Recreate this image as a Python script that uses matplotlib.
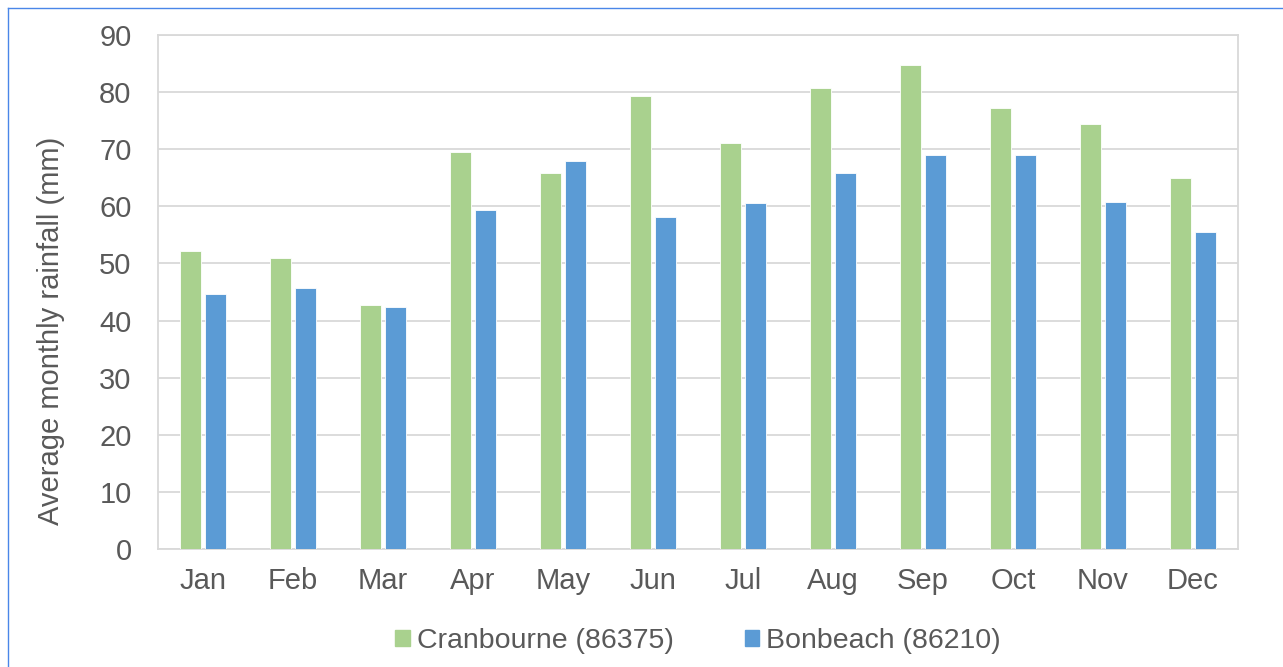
import matplotlib
matplotlib.use("Agg")
import matplotlib.pyplot as plt
import numpy as np
from matplotlib.lines import Line2D

months = ["Jan", "Feb", "Mar", "Apr", "May", "Jun", "Jul", "Aug", "Sep", "Oct", "Nov", "Dec"]
cranbourne = [52.2, 51.0, 42.8, 69.6, 65.8, 79.3, 71.1, 80.8, 84.8, 77.2, 74.5, 65.0]
bonbeach = [44.6, 45.7, 42.3, 59.4, 67.9, 58.2, 60.5, 65.8, 69.0, 69.0, 60.8, 55.5]
series_names = ["Cranbourne (86375)", "Bonbeach (86210)"]
yticks = [0, 10, 20, 30, 40, 50, 60, 70, 80, 90]

plt.rcParams['font.family'] = ['Liberation Sans', 'DejaVu Sans']
txt = "#595959"
grid = "#D9D9D9"
green = "#A9D18E"
blue = "#5B9BD5"

W, H = 1283, 667
fig = plt.figure(figsize=(W / 100, H / 100), dpi=100)
ax = fig.add_axes([158 / W, 1 - 549 / H, (1238 - 158) / W, (549 - 35) / H])

x = np.arange(len(months))
bw = 0.235
off = 0.139
ax.bar(x - off, cranbourne, bw, color=green, edgecolor="white", linewidth=0.6, zorder=3, label=series_names[0])
ax.bar(x + off, bonbeach, bw, color=blue, edgecolor="white", linewidth=0.6, zorder=3, label=series_names[1])

ax.set_xlim(-0.5, len(months) - 0.5)
ax.set_ylim(0, 90)
ax.set_yticks(yticks)
ax.set_xticks(x)
ax.set_xticklabels(months)
ax.yaxis.grid(True, color=grid, linewidth=1.3, zorder=0)
ax.set_axisbelow(True)
for s in ax.spines.values():
    s.set_color(grid)
    s.set_linewidth(1.3)
ax.tick_params(axis='both', length=0, colors=txt, labelsize=21)
ax.tick_params(axis='y', pad=19)
ax.tick_params(axis='x', pad=13)
ax.set_ylabel("Average monthly rainfall (mm)", color=txt, fontsize=21)
ax.yaxis.set_label_coords((51 - 158) / 1080, (549 - 331) / 514)
ax.yaxis.label.set_verticalalignment('center')

handles = [plt.Rectangle((0, 0), 1, 1, color=green), plt.Rectangle((0, 0), 1, 1, color=blue)]
fig.legend(handles, series_names, loc="center", bbox_to_anchor=(698 / W, 1 - 641 / H), ncol=2,
           frameon=False, fontsize=20.5, labelcolor=txt, handlelength=0.5, handleheight=0.5,
           handletextpad=0.25, columnspacing=2.5)

# outer border lines (left and top)
fig.add_artist(Line2D([8 / W, 8 / W], [0, 1 - 8 / H], color="#4A86E8", linewidth=1, transform=fig.transFigure))
fig.add_artist(Line2D([8 / W, 1], [1 - 8 / H, 1 - 8 / H], color="#4A86E8", linewidth=1, transform=fig.transFigure))

fig.savefig("out.png", dpi=100)
